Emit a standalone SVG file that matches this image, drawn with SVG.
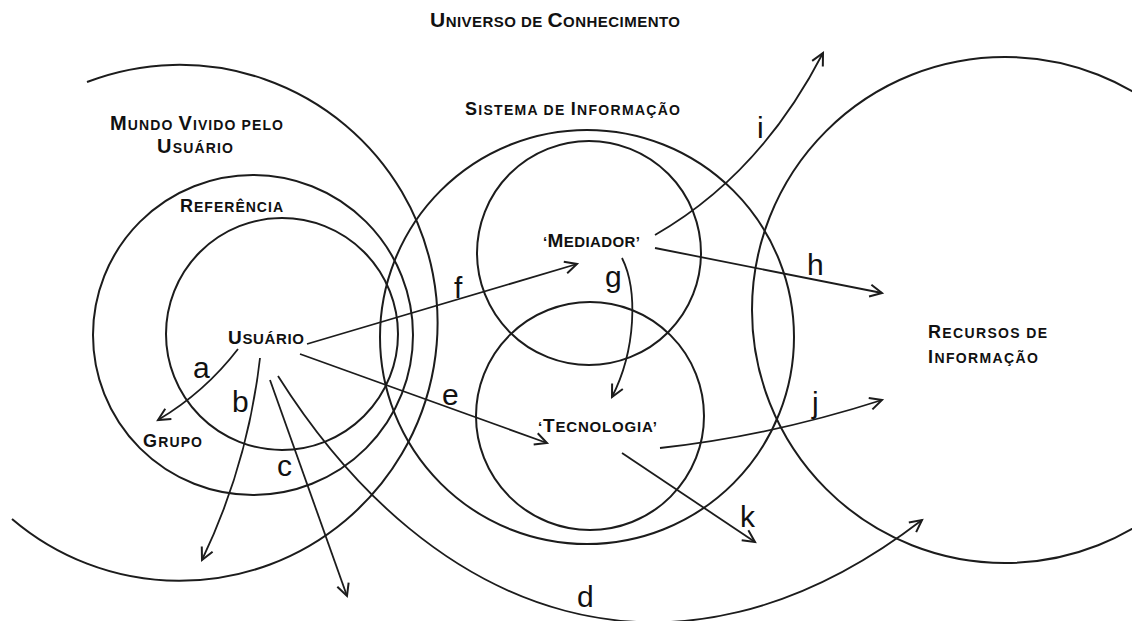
<svg xmlns="http://www.w3.org/2000/svg" width="1132" height="621" viewBox="0 0 1132 621">
<style>
.c{fill:none;stroke:#1c1c1c;stroke-width:2}
.a{fill:none;stroke:#1c1c1c;stroke-width:1.8;marker-end:url(#ah)}
.t{font-family:"Liberation Sans",Arial,sans-serif;font-weight:bold;fill:#111;font-size:14px}
.B{font-size:19px}
.l{font-family:"Liberation Sans",Arial,sans-serif;fill:#111;font-size:30px}
</style>
<defs>
<marker id="ah" markerUnits="userSpaceOnUse" markerWidth="16" markerHeight="16" refX="13" refY="8" orient="auto" viewBox="0 0 16 16">
<path d="M1,2 L13,8 L1,14" fill="none" stroke="#1c1c1c" stroke-width="2"/>
</marker>
</defs>
<rect width="1132" height="621" fill="#fff"/>

<g id="mundo">
<path class="c" d="M87,82 A258,258 0 1 1 12,519"/>
<text class="t" x="110" y="130" textLength="173" lengthAdjust="spacing"><tspan class="B" style="font-size:20px">M</tspan>UNDO <tspan class="B" style="font-size:20px">V</tspan>IVIDO PELO</text>
<text class="t" x="157" y="153" textLength="76" lengthAdjust="spacing"><tspan class="B" style="font-size:20px">U</tspan>SUÁRIO</text>
</g>
<g id="referencia">
<circle class="c" cx="253" cy="335" r="160"/>
<text class="t" x="180" y="212" textLength="103" lengthAdjust="spacing"><tspan class="B" style="font-size:18px">R</tspan>EFERÊNCIA</text>
</g>
<g id="usuario">
<circle class="c" cx="282" cy="334" r="116"/>
<text class="t" x="228" y="344" textLength="76" lengthAdjust="spacing" style="font-size:15px"><tspan class="B">U</tspan>SUÁRIO</text>
</g>
<g id="grupo">
<text class="t" x="143" y="447" textLength="59" lengthAdjust="spacing"><tspan class="B" style="font-size:18px">G</tspan>RUPO</text>
</g>
<g id="sistema">
<circle class="c" cx="587" cy="337" r="207"/>
<text class="t" x="465" y="115" textLength="215" lengthAdjust="spacing"><tspan class="B" style="font-size:18px">S</tspan>ISTEMA DE <tspan class="B" style="font-size:18px">I</tspan>NFORMAÇÃO</text>
</g>
<g id="mediador">
<circle class="c" cx="589" cy="253" r="112"/>
<text class="t" x="543" y="247" textLength="97" lengthAdjust="spacing" style="font-size:15px">‘<tspan class="B">M</tspan>EDIADOR’</text>
</g>
<g id="tecnologia">
<circle class="c" cx="590" cy="416" r="114"/>
<text class="t" x="538" y="432" textLength="119" lengthAdjust="spacing" style="font-size:15px">‘<tspan class="B">T</tspan>ECNOLOGIA’</text>
</g>
<g id="recursos">
<circle class="c" cx="1005" cy="310" r="253"/>
<text class="t" x="928" y="338" textLength="119" lengthAdjust="spacing"><tspan class="B" style="font-size:18px">R</tspan>ECURSOS DE</text>
<text class="t" x="928" y="363" textLength="110" lengthAdjust="spacing"><tspan class="B" style="font-size:18px">I</tspan>NFORMAÇÃO</text>
</g>
<g id="universo">
<text class="t" x="430" y="27" textLength="250" lengthAdjust="spacing" style="font-size:15px"><tspan class="B" style="font-size:21px">U</tspan>NIVERSO DE <tspan class="B" style="font-size:21px">C</tspan>ONHECIMENTO</text>
</g>

<g id="connectors">
<path class="a" d="M238,349 Q205,392 158,420"/>
<path class="a" d="M260,358 Q248,464 202,560"/>
<path class="a" d="M270,380 L347,596"/>
<path class="a" d="M278,376 C432,620 675,710 922,520"/>
<path class="a" d="M300,354 L547,443"/>
<path class="a" d="M307,344 L577,264"/>
<path class="a" d="M622,258 C638,290 636,350 612,397"/>
<path class="a" d="M655,248 L882,293"/>
<path class="a" d="M655,235 Q760,175 823,53"/>
<path class="a" d="M660,448 Q770,436 882,400"/>
<path class="a" d="M622,453 L755,542"/>
<text class="l" x="193" y="378">a</text>
<text class="l" x="232" y="412">b</text>
<text class="l" x="277" y="476">c</text>
<text class="l" x="577" y="607">d</text>
<text class="l" x="442" y="405">e</text>
<text class="l" x="454" y="298">f</text>
<text class="l" x="605" y="287">g</text>
<text class="l" x="807" y="275">h</text>
<text class="l" x="757" y="138">i</text>
<text class="l" x="812" y="413">j</text>
<text class="l" x="740" y="527">k</text>
</g>
</svg>
